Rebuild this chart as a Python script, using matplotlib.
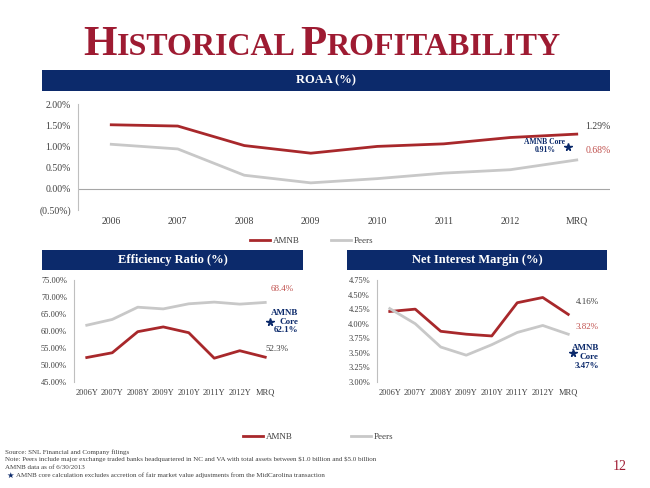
import matplotlib
matplotlib.use("Agg")
import matplotlib.pyplot as plt
from matplotlib.patches import Rectangle

plt.rcParams['font.family'] = ['Liberation Serif', 'DejaVu Serif']

# ROAA (%)
roaa_years = ["2006", "2007", "2008", "2009", "2010", "2011", "2012", "MRQ"]
roaa_amnb = [1.51, 1.48, 1.02, 0.84, 1.00, 1.06, 1.21, 1.29]
roaa_peers = [1.05, 0.94, 0.32, 0.14, 0.24, 0.37, 0.45, 0.68]
roaa_core = 0.91

# Efficiency ratio (%) and NIM (%)
small_years = ["2006Y", "2007Y", "2008Y", "2009Y", "2010Y", "2011Y", "2012Y", "MRQ"]
eff_amnb = [52.2, 53.6, 59.8, 61.2, 59.5, 52.0, 54.2, 52.3]
eff_peers = [61.7, 63.4, 67.0, 66.5, 68.0, 68.5, 67.9, 68.4]
eff_core = 62.1
nim_amnb = [4.21, 4.25, 3.87, 3.82, 3.79, 4.36, 4.45, 4.16]
nim_peers = [4.26, 4.00, 3.60, 3.46, 3.64, 3.85, 3.97, 3.82]
nim_core = 3.47

RED = "#A8282B"
GREY = "#C8C8C8"
NAVY = "#0C2A6B"
LBLRED = "#C0504D"
TXT = "#404040"
TITLE = "#9E1B32"

W, H = 650, 488
fig = plt.figure(figsize=(6.5, 4.88), dpi=100)


def px(x, y):
    return x / W, 1 - y / H


def banner(x0, y0, x1, y1, label):
    fig.add_artist(Rectangle(px(x0, y1), (x1 - x0) / W, (y1 - y0) / H,
                             transform=fig.transFigure, facecolor=NAVY, edgecolor="none"))
    fig.text((x0 + x1) / 2 / W, 1 - (y0 + y1) / 2 / H, label, color="white",
             fontsize=9, fontweight="bold", ha="center", va="center")


def style_axes(ax, ylim, yticks, yfmt, labels, fs):
    ax.set_xlim(-0.5, len(labels) - 0.5)
    ax.set_ylim(*ylim)
    ax.set_yticks(yticks)
    ax.set_yticklabels([yfmt(v) for v in yticks], fontsize=fs, color=TXT)
    ax.set_xticks(range(len(labels)))
    ax.set_xticklabels(labels, fontsize=fs, color=TXT)
    for s in ["top", "right", "bottom"]:
        ax.spines[s].set_visible(False)
    ax.spines["left"].set_color("#BFBFBF")
    ax.tick_params(length=0, pad=5)
    ax.patch.set_alpha(0)


# title in small caps
r = fig.canvas.get_renderer()
parts = [("H", 31), ("ISTORICAL", 23), (" ", 14), ("P", 31), ("ROFITABILITY", 23)]
texts = []
for s, size in parts:
    texts.append(fig.text(0, H - 55, s, fontsize=size, color=TITLE, fontweight="bold",
                          va="baseline", ha="left", transform=None))
widths = [t.get_window_extent(renderer=r).width for t in texts]
xpos = 322 - sum(widths) / 2
for t, w in zip(texts, widths):
    t.set_x(xpos)
    xpos += w

# ROAA chart
banner(42, 70, 610, 91, "ROAA (%)")
ax1 = fig.add_axes([78 / W, 1 - 210 / H, (610 - 78) / W, (210 - 104) / H])
x = range(len(roaa_years))
l1, = ax1.plot(x, roaa_amnb, color=RED, lw=2, label="AMNB")
l2, = ax1.plot(x, roaa_peers, color=GREY, lw=2, label="Peers")
ax1.axhline(0, color="#A6A6A6", lw=0.8)
style_axes(ax1, (-0.5, 2.0), [-0.5, 0, 0.5, 1.0, 1.5, 2.0],
           lambda v: "(%.2f%%)" % -v if v < 0 else "%.2f%%" % v, roaa_years, 7)
ax1.text(7.32, 1.48, "%.2f%%" % roaa_amnb[-1], fontsize=7, color=TXT, ha="center", va="center")
ax1.text(7.32, 0.915, "%.2f%%" % roaa_peers[-1], fontsize=7, color=LBLRED, ha="center", va="center")
ax1.plot(6.87, roaa_core + 0.075, marker="*", color=NAVY, ms=5.5, ls="none")
ax1.text(6.52, roaa_core + 0.1, "AMNB Core\n%.2f%%" % roaa_core, fontsize=5.5, color=NAVY,
         fontweight="bold", ha="center", va="center", linespacing=1.1)
fig.legend(handles=[l1, l2], loc="center", bbox_to_anchor=(312 / W, 1 - 241 / H), ncol=2,
           frameon=False, fontsize=6.5, handlelength=2.2, handletextpad=0.3, columnspacing=3.5,
           labelcolor=TXT)

# Efficiency ratio
banner(42, 250, 303, 270, "Efficiency Ratio (%)")
ax2 = fig.add_axes([74 / W, 1 - 382 / H, (278 - 74) / W, (382 - 280) / H])
x = range(len(small_years))
e1, = ax2.plot(x, eff_amnb, color=RED, lw=2, label="AMNB")
e2, = ax2.plot(x, eff_peers, color=GREY, lw=2, label="Peers")
style_axes(ax2, (45, 75), [45, 50, 55, 60, 65, 70, 75], lambda v: "%.2f%%" % v, small_years, 6)
ax2.text(7.66, 72.35, "%.1f%%" % eff_peers[-1], fontsize=6.5, color=LBLRED, ha="center", va="center")
ax2.text(7.46, 54.7, "%.1f%%" % eff_amnb[-1], fontsize=6.5, color=TXT, ha="center", va="center")
ax2.plot(7.19, eff_core + 0.5, marker="*", color=NAVY, ms=5.5, ls="none", clip_on=False)
ax2.text(8.3, eff_core + 0.6, "AMNB\nCore\n%.1f%%" % eff_core, fontsize=6.5, color=NAVY,
         fontweight="bold", ha="right", va="center", multialignment="right", linespacing=1.1)

# Net interest margin
banner(347, 250, 607, 270, "Net Interest Margin (%)")
ax3 = fig.add_axes([377 / W, 1 - 382 / H, (581 - 377) / W, (382 - 280) / H])
ax3.plot(x, nim_amnb, color=RED, lw=2)
ax3.plot(x, nim_peers, color=GREY, lw=2)
style_axes(ax3, (3.0, 4.75), [3.0, 3.25, 3.5, 3.75, 4.0, 4.25, 4.5, 4.75],
           lambda v: "%.2f%%" % v, small_years, 6)
ax3.text(7.74, 4.37, "%.2f%%" % nim_amnb[-1], fontsize=6.5, color=TXT, ha="center", va="center")
ax3.text(7.74, 3.94, "%.2f%%" % nim_peers[-1], fontsize=6.5, color=LBLRED, ha="center", va="center")
ax3.plot(7.19, nim_core + 0.03, marker="*", color=NAVY, ms=5.5, ls="none", clip_on=False)
ax3.text(8.2, nim_core - 0.04, "AMNB\nCore\n%.2f%%" % nim_core, fontsize=6.5, color=NAVY,
         fontweight="bold", ha="right", va="center", multialignment="right", linespacing=1.1)

fig.legend(handles=[e1, e2], loc="center", bbox_to_anchor=(318 / W, 1 - 437 / H), ncol=2,
           frameon=False, fontsize=6.5, handlelength=2.2, handletextpad=0.3, columnspacing=6.5,
           labelcolor=TXT)

# footnotes
notes = ["Source: SNL Financial and Company filings",
         "Note: Peers include major exchange traded banks headquartered in NC and VA with total "
         "assets between \\$1.0 billion and \\$5.0 billion",
         "AMNB data as of 6/30/2013"]
for i, n in enumerate(notes):
    fig.text(5 / W, 1 - (452 + 7.7 * i) / H, n, fontsize=5, color=TXT, va="center")
fig.text(10 / W, 1 - 475 / H, "\u2605", fontsize=6, color=NAVY, va="center", ha="center",
         family=["DejaVu Sans"])
fig.text(16 / W, 1 - 475 / H, "AMNB core calculation excludes accretion of fair market value "
         "adjustments from the MidCarolina transaction", fontsize=5, color=TXT, va="center")
fig.text(620 / W, 1 - 466 / H, "12", fontsize=10, color=TITLE, ha="center", va="center")

fig.savefig("out.png", dpi=100)
